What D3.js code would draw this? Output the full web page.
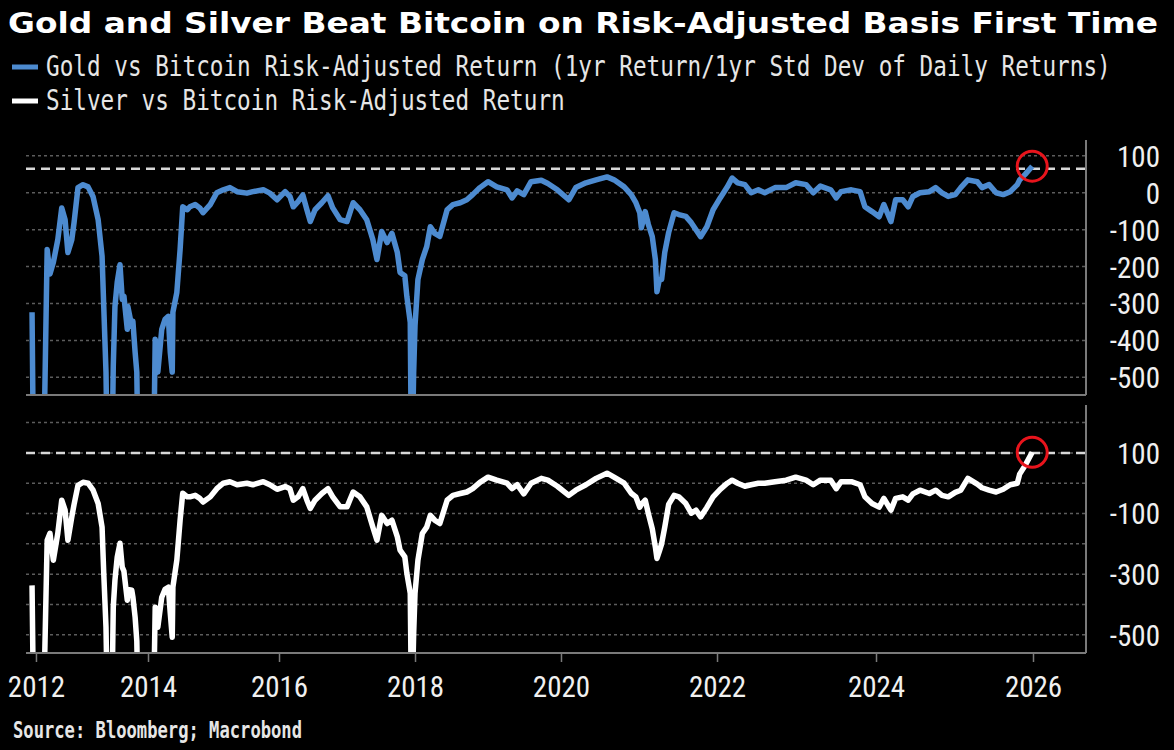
<!DOCTYPE html>
<html lang="en">
<head>
  <meta charset="UTF-8">
  <title>Gold and Silver Beat Bitcoin</title>
  <script src="https://d3js.org/d3.v7.min.js"></script>
  <style>
    body { margin: 0; background: #000; }
    svg { display: block; }
    .tick-label { font-family: "Liberation Sans Narrow", "Roboto Condensed", "Liberation Sans", sans-serif; font-size: 29px; fill: #f0f0f0; }
  </style>
</head>
<body>
  <div id="chart"></div>

  <script>
    // Dates as decimal years, shared by both series
    const years = [
      2011.93, 2011.96, 2012.13, 2012.20, 2012.25, 2012.31, 2012.39, 2012.46, 2012.52, 2012.57,
      2012.64, 2012.68, 2012.75, 2012.84, 2012.93, 2013.02, 2013.11, 2013.18, 2013.21, 2013.25,
      2013.28, 2013.35, 2013.38, 2013.41, 2013.45, 2013.50, 2013.54, 2013.57, 2013.63, 2013.64,
      2013.71, 2013.73, 2013.77, 2013.80, 2013.83, 2014.08, 2014.11, 2014.15, 2014.21, 2014.26,
      2014.31, 2014.34, 2014.37, 2014.38, 2014.44, 2014.49, 2014.53, 2014.60, 2014.64, 2014.72,
      2014.79, 2014.84, 2014.95, 2015.05, 2015.15, 2015.25, 2015.36, 2015.51, 2015.60, 2015.76,
      2015.86, 2015.97, 2016.09, 2016.16, 2016.21, 2016.28, 2016.35, 2016.41, 2016.46, 2016.53,
      2016.63, 2016.72, 2016.79, 2016.90, 2017.00, 2017.09, 2017.19, 2017.29, 2017.38, 2017.44,
      2017.51, 2017.59, 2017.66, 2017.74, 2017.78, 2017.85, 2017.88, 2017.93, 2017.95, 2017.98,
      2018.00, 2018.04, 2018.10, 2018.16, 2018.21, 2018.27, 2018.34, 2018.44, 2018.52, 2018.62,
      2018.71, 2018.79, 2018.89, 2019.00, 2019.12, 2019.26, 2019.33, 2019.40, 2019.49, 2019.59,
      2019.73, 2019.82, 2019.95, 2020.10, 2020.19, 2020.32, 2020.45, 2020.59, 2020.68, 2020.81,
      2020.90, 2020.96, 2021.01, 2021.03, 2021.08, 2021.12, 2021.17, 2021.21, 2021.23, 2021.26,
      2021.29, 2021.33, 2021.38, 2021.45, 2021.51, 2021.60, 2021.67, 2021.73, 2021.79, 2021.87,
      2021.95, 2022.04, 2022.13, 2022.19, 2022.26, 2022.35, 2022.43, 2022.52, 2022.60, 2022.73,
      2022.87, 2022.99, 2023.12, 2023.21, 2023.30, 2023.43, 2023.50, 2023.56, 2023.69, 2023.80,
      2023.86, 2023.95, 2024.04, 2024.10, 2024.19, 2024.25, 2024.34, 2024.41, 2024.47, 2024.56,
      2024.68, 2024.76, 2024.84, 2024.92, 2025.01, 2025.08, 2025.17, 2025.29, 2025.35, 2025.44,
      2025.53, 2025.62, 2025.71, 2025.80, 2025.83, 2025.90, 2025.99
    ];

    // -800 = far below the panel floor (line runs off the bottom)
    const goldValues = [
      -324, -800, -800, -154, -220, -189, -127, -41, -73, -162,
      -127, -81, 14, 22, 16, -11, -73, -172, -308, -486,
      -800, -800, -470, -308, -243, -195, -289, -280, -370, -308,
      -362, -348, -432, -486, -800, -800, -397, -486, -370, -343,
      -335, -432, -486, -324, -270, -154, -38, -46, -38, -32,
      -41, -54, -32, 0, 8, 14, 3, -1, 3, 8,
      -1, -19, 3, -10, -38, -24, -6, -46, -78, -46,
      -27, -8, -41, -73, -78, -27, -46, -73, -127, -181,
      -105, -135, -110, -162, -216, -225, -281, -351, -800, -486,
      -360, -235, -181, -146, -92, -110, -118, -46, -32, -27,
      -19, -5, 14, 30, 16, 8, -14, 5, -5, 30,
      34, 25, 8, -19, 14, 27, 35, 43, 35, 16,
      -5, -27, -54, -95, -51, -86, -119, -181, -268, -235,
      -235, -162, -108, -54, -59, -64, -81, -100, -119, -92,
      -46, -14, 16, 40, 27, 22, 0, 8, 0, 14,
      14, 27, 22, 0, 18, 8, -14, 3, 8, 3,
      -38, -51, -65, -32, -78, -19, -19, -38, -10, 0,
      3, 14, 0, -10, -5, 14, 35, 30, 14, 22,
      0, -5, 3, 22, 35, 50, 72
    ];

    const silverValues = [
      -337, -800, -800, -188, -165, -254, -165, -56, -89, -188,
      -111, -70, -7, 3, 0, -23, -67, -145, -297, -475,
      -800, -800, -409, -320, -244, -198, -277, -290, -386, -350,
      -353, -375, -442, -520, -800, -800, -409, -475, -376, -350,
      -343, -429, -508, -343, -254, -122, -33, -45, -45, -40,
      -50, -62, -45, -18, 0, 5, -5, 0, -5, 5,
      -5, -20, -11, -18, -56, -45, -18, -56, -83, -56,
      -34, -18, -45, -78, -78, -29, -45, -78, -145, -188,
      -106, -133, -122, -177, -221, -243, -297, -363, -800, -496,
      -363, -254, -166, -145, -106, -122, -133, -56, -40, -34,
      -29, -18, 3, 20, 10, 0, -18, -5, -35, 0,
      16, 10, -10, -40, -23, -5, 16, 33, 20, 0,
      -33, -45, -79, -70, -56, -100, -150, -211, -248, -225,
      -200, -145, -70, -40, -45, -67, -99, -89, -111, -80,
      -45, -20, 0, 10, 0, -10, -5, 0, 0, 5,
      10, 20, 10, -5, 10, 10, -18, 5, 5, -5,
      -45, -67, -79, -50, -89, -50, -45, -56, -35, -23,
      -34, -23, -40, -45, -30, -23, 16, -3, -15, -23,
      -29, -20, -5, 0, 30, 59, 102
    ];

    const xTickYears = [2012, 2014, 2016, 2018, 2020, 2022, 2024, 2026];
    // the source's time axis is not evenly spaced: share of plot width for each labelled year
    const xTickStops = [0.0094, 0.1151, 0.2387, 0.3670, 0.5047, 0.6519, 0.8019, 0.9500];

    const goldTicks = [100, 0, -100, -200, -300, -400, -500];
    const goldGrid = [100, 0, -100, -200, -300, -400, -500];
    const silverTicks = [100, -100, -300, -500];
    const silverGrid = [200, 100, 0, -100, -200, -300, -400, -500];

    const goldLatest = 65;
    const silverLatest = 100;

    const width = 1174;
    const height = 750;
    const plotLeft = 26;
    const plotRight = 1086;
    const axisGray = "#7a7a7a";

    const svg = d3.select("#chart")
      .append("svg")
      .attr("width", width)
      .attr("height", height)
      .style("background", "#000");

    // Title
    svg.append("text")
      .attr("x", 8)
      .attr("y", 33)
      .attr("fill", "#fff")
      .attr("font-family", "'DejaVu Sans', sans-serif")
      .attr("font-weight", "bold")
      .attr("font-size", 28)
      .attr("textLength", 1150)
      .attr("lengthAdjust", "spacingAndGlyphs")
      .text("Gold and Silver Beat Bitcoin on Risk-Adjusted Basis First Time");

    // Legend (tall, narrow monospace like the source)
    const legend = [
      { label: "Gold vs Bitcoin Risk-Adjusted Return (1yr Return/1yr Std Dev of Daily Returns)", color: "#4d8bd0", y: 76 },
      { label: "Silver vs Bitcoin Risk-Adjusted Return", color: "#ffffff", y: 110 }
    ];
    legend.forEach(d => {
      svg.append("line")
        .attr("x1", 12).attr("x2", 38)
        .attr("y1", d.y - 9).attr("y2", d.y - 9)
        .attr("stroke", d.color)
        .attr("stroke-width", 5);
      svg.append("text")
        .attr("transform", `translate(46,${d.y}) scale(1,1.22)`)
        .attr("fill", "#e6e6e6")
        .attr("font-family", "'DejaVu Sans Mono', 'Liberation Mono', monospace")
        .attr("font-size", 23)
        .attr("textLength", d.label.length * 13.65)
        .attr("lengthAdjust", "spacingAndGlyphs")
        .text(d.label);
    });

    const x = d3.scaleLinear()
      .domain(xTickYears)
      .range(xTickStops.map(f => plotLeft + f * (plotRight - plotLeft)));

    const panels = [
      { id: "gold", values: goldValues, color: "#4d8bd0", top: 140, bottom: 395,
        domain: [-548, 143], grid: goldGrid, ticks: goldTicks, latest: goldLatest },
      { id: "silver", values: silverValues, color: "#ffffff", top: 405, bottom: 653,
        domain: [-560, 258], grid: silverGrid, ticks: silverTicks, latest: silverLatest }
    ];

    panels.forEach(p => {
      const y = d3.scaleLinear().domain(p.domain).range([p.bottom, p.top]);
      const g = svg.append("g");

      g.append("clipPath")
        .attr("id", "clip-" + p.id)
        .append("rect")
        .attr("x", plotLeft)
        .attr("y", p.top)
        .attr("width", plotRight - plotLeft)
        .attr("height", p.bottom - p.top);

      // dotted gridlines
      g.selectAll(".grid")
        .data(p.grid)
        .enter()
        .append("line")
        .attr("x1", plotLeft).attr("x2", plotRight)
        .attr("y1", d => y(d)).attr("y2", d => y(d))
        .attr("stroke", "#5c5c5c")
        .attr("stroke-width", 1.5)
        .attr("stroke-dasharray", "3,3");

      // latest-value reference line
      g.append("line")
        .attr("x1", plotLeft).attr("x2", plotRight)
        .attr("y1", y(p.latest)).attr("y2", y(p.latest))
        .attr("stroke", "#d8d8d8")
        .attr("stroke-width", 2.5)
        .attr("stroke-dasharray", "9,6");

      // series
      const line = d3.line()
        .x(i => x(years[i]))
        .y(i => y(p.values[i]));

      g.append("path")
        .datum(d3.range(years.length))
        .attr("clip-path", "url(#clip-" + p.id + ")")
        .attr("fill", "none")
        .attr("stroke", p.color)
        .attr("stroke-width", 5.5)
        .attr("stroke-linejoin", "round")
        .attr("d", line);

      // bottom frame line
      g.append("line")
        .attr("x1", plotLeft).attr("x2", plotRight)
        .attr("y1", p.bottom).attr("y2", p.bottom)
        .attr("stroke", axisGray)
        .attr("stroke-width", 2);

      // right axis
      const yAxis = g.append("g")
        .attr("transform", `translate(${plotRight},0)`)
        .call(d3.axisRight(y).tickValues(p.ticks).tickSize(0).tickSizeOuter(0).tickFormat(d => String(d)));
      yAxis.select(".domain")
        .attr("d", `M0,${p.top}V${p.bottom}`)
        .attr("stroke", axisGray)
        .attr("stroke-width", 2);
      yAxis.selectAll("text")
        .attr("class", "tick-label")
        .attr("x", 74)
        .attr("text-anchor", "end")
        .attr("dy", "0.36em");

      // red circle on the latest point
      const last = years.length - 1;
      g.append("circle")
        .attr("cx", x(years[last]))
        .attr("cy", y(p.values[last]))
        .attr("r", 15)
        .attr("fill", "none")
        .attr("stroke", "#e8141c")
        .attr("stroke-width", 3);
    });

    // x axis under the lower panel
    const xAxis = svg.append("g")
      .attr("transform", "translate(0,653)")
      .call(d3.axisBottom(x).tickValues(xTickYears).tickFormat(d3.format("d")).tickSize(9).tickSizeOuter(0).tickPadding(14));
    xAxis.select(".domain").remove();
    xAxis.selectAll(".tick line").attr("stroke", axisGray).attr("stroke-width", 1.5);
    xAxis.selectAll("text").attr("class", "tick-label");

    // Source
    svg.append("text")
      .attr("x", 13)
      .attr("y", 738)
      .attr("fill", "#e6e6e6")
      .attr("font-family", "'DejaVu Sans Mono', 'Liberation Mono', monospace")
      .attr("font-weight", "bold")
      .attr("font-size", 23)
      .attr("textLength", 289)
      .attr("lengthAdjust", "spacingAndGlyphs")
      .text("Source: Bloomberg; Macrobond");
  </script>
</body>
</html>
